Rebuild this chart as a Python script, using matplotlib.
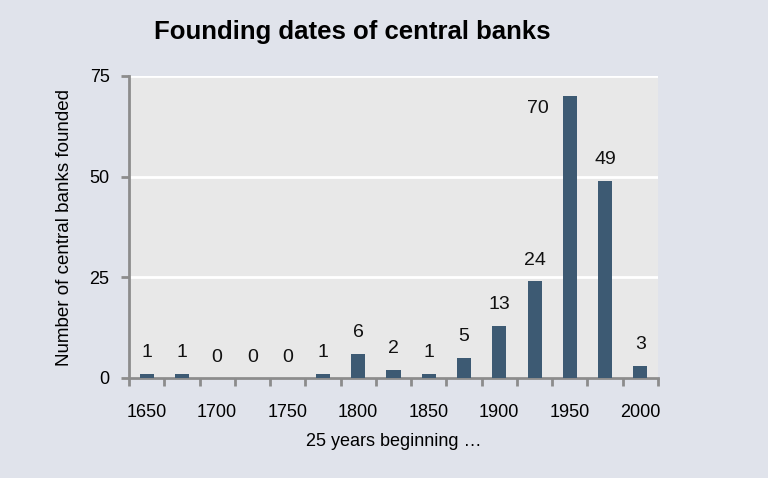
import matplotlib
matplotlib.use("Agg")
import matplotlib.pyplot as plt
import numpy as np

plt.rcParams['font.family'] = ['Liberation Sans', 'DejaVu Sans']

periods = [1650, 1675, 1700, 1725, 1750, 1775, 1800, 1825, 1850, 1875, 1900, 1925, 1950, 1975, 2000]
counts = [1, 1, 0, 0, 0, 1, 6, 2, 1, 5, 13, 24, 70, 49, 3]
tick_labels = ['1650', '', '1700', '', '1750', '', '1800', '', '1850', '', '1900', '', '1950', '', '2000']

fig_bg = '#e0e3eb'
ax_bg = '#e8e8e8'
bar_color = '#3d5a73'
spine_color = '#8c8c8c'

fig = plt.figure(figsize=(7.68, 4.78), dpi=100, facecolor=fig_bg)
ax = fig.add_axes([129/768, 1-378/478, (658-129)/768, (378-76)/478])
ax.set_facecolor(ax_bg)

x = np.arange(len(periods))
ax.bar(x, counts, width=0.4, color=bar_color, zorder=3)

ax.set_xlim(-0.5, len(periods) - 0.5)
ax.set_ylim(0, 75)
ax.set_yticks([0, 25, 50, 75])
ax.yaxis.grid(True, color='white', linewidth=2, zorder=1)
ax.set_axisbelow(True)

for s in ['top', 'right']:
    ax.spines[s].set_visible(False)
for s in ['left', 'bottom']:
    ax.spines[s].set_color(spine_color)
    ax.spines[s].set_linewidth(2)

ax.set_xticks(x)
ax.set_xticklabels(tick_labels, fontsize=13)
ax.tick_params(axis='x', which='major', length=0, pad=19)
ax.set_xticks(np.arange(-0.5, len(periods) + 0.5, 1), minor=True)
ax.tick_params(axis='x', which='minor', length=6, width=2, color=spine_color)
ax.tick_params(axis='y', length=6, width=2, color=spine_color, labelsize=13, pad=8)

for xi, v in zip(x, counts):
    if v >= 70:
        ax.annotate(str(v), (xi - 0.2, v), xytext=(-10, -9), textcoords='offset points',
                    ha='right', va='center', fontsize=14, color='#111111')
    else:
        ax.annotate(str(v), (xi, v), xytext=(0, 9), textcoords='offset points',
                    ha='center', va='bottom', fontsize=14, color='#111111')

ax.set_ylabel('Number of central banks founded', fontsize=13.5, labelpad=12)
ax.set_xlabel('25 years beginning \u2026', fontsize=13, labelpad=8)

fig.text(352/768, 1-32/478, 'Founding dates of central banks', ha='center', va='center',
         fontsize=18.5, fontweight='bold')

fig.savefig('out.png', dpi=100, facecolor=fig_bg)
